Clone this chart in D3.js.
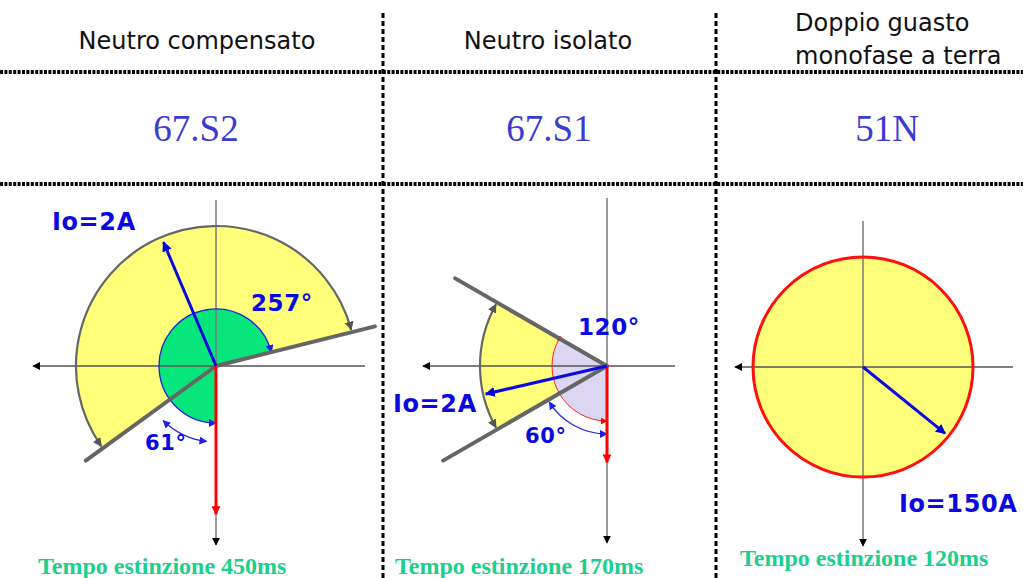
<!DOCTYPE html>
<html><head><meta charset="utf-8">
<script src="https://cdn.jsdelivr.net/npm/d3@7/dist/d3.min.js"></script>
<style>html,body{margin:0;padding:0;background:#fff;}svg{display:block;}</style>
</head><body>
<script>
// ---------- data ----------
const titles = [["Neutro compensato"], ["Neutro isolato"], ["Doppio guasto", "monofase a terra"]];
const codes = ["67.S2", "67.S1", "51N"];
const times = ["Tempo estinzione 450ms", "Tempo estinzione 170ms", "Tempo estinzione 120ms"];
const ioLabels = ["Io=2A", "Io=2A", "Io=150A"];
// trip sector (degrees, counter-clockwise from +x)
const sectorStart = [14, 150, 0];
const sectorEnd = [216, 210, 360];
// current vector angle (deg) and magnitude relative to sector radius
const ioAngles = [113, 193, -39];
const ioMagnitude = [0.96, 0.98, 0.96];
// measured span angle (inner sector) and its label
const spanStart = [14, 150];
const spanEnd = [270, 270];
const spanLabels = ["257°", "120°"];
// small reference angle and its label
const smallStart = [226, 212];
const smallEnd = [263, 270];
const smallLabels = ["61°", "60°"];
// reference voltage vector (pointing down), relative length
const refAngle = 270;
const refLength = [1.06, 0.76];
// sector boundary line lengths relative to sector radius
const lineLenA = [1.17, 1.38];
const lineLenB = [1.15, 1.49];

// ---------- layout ----------
const W = 1023, H = 578;
const svg = d3.select("body").append("svg").attr("width", W).attr("height", H);
const rad = d3.scaleLinear().domain([0, 360]).range([0, 2 * Math.PI]);
const panels = [
  {cx: 216, cy: 366, R: 140, inner: 57, small: 76, vTop: 200, vBot: 545, hL: 33, hR: 365},
  {cx: 607, cy: 366, R: 127, inner: 55, small: 68, vTop: 198, vBot: 543, hL: 423, hR: 675},
  {cx: 863, cy: 367, R: 110, vTop: 221, vBot: 546, hL: 735, hR: 1013}
];
function pt(p, r, deg) { return [p.cx + r * Math.cos(rad(deg)), p.cy - r * Math.sin(rad(deg))]; }
function arcPath(p, r, a0, a1) {
  const g = d3.path();
  g.arc(p.cx, p.cy, r, -rad(a0), -rad(a1), true);
  return g.toString();
}
function sectorPath(p, r, a0, a1) {
  const g = d3.path();
  g.moveTo(p.cx, p.cy);
  g.arc(p.cx, p.cy, r, -rad(a0), -rad(a1), true);
  g.closePath();
  return g.toString();
}

// markers
const defs = svg.append("defs");
function marker(id, color, size) {
  defs.append("marker").attr("id", id).attr("viewBox", "0 0 10 10")
    .attr("refX", 9).attr("refY", 5).attr("markerUnits", "userSpaceOnUse")
    .attr("markerWidth", size).attr("markerHeight", size)
    .attr("orient", "auto-start-reverse")
    .append("path").attr("d", "M0,0 L10,5 L0,10 z").attr("fill", color);
}
marker("mBlack", "#000", 8);
marker("mGray", "#555", 9);
marker("mBlue", "#0000e0", 10);
marker("mBlueS", "#2020e0", 8);
marker("mRed", "#ff0000", 9);
marker("mRedS", "#ff0000", 7);

const BLUE = "#0a0ae0", YEL = "#ffff7a", GRAY = "#666", GREEN = "#06e67a", PINK = "#ddd6f3";

// ---------- grid ----------
const grid = svg.append("g");
[72, 184].forEach(y => grid.append("line").attr("x1", 0).attr("x2", W).attr("y1", y).attr("y2", y)
  .attr("stroke", "#000").attr("stroke-width", 4).attr("stroke-dasharray", "3,1.4"));
[383, 716].forEach(x => grid.append("line").attr("x1", x).attr("x2", x).attr("y1", 13).attr("y2", H)
  .attr("stroke", "#000").attr("stroke-width", 3).attr("stroke-dasharray", "5,3"));

// ---------- headers ----------
const headerPos = [{x: 197, y: [49], anchor: "middle"}, {x: 548, y: [49], anchor: "middle"}, {x: 795, y: [31, 64], anchor: "start"}];
titles.forEach((lines, i) => {
  lines.forEach((t, j) => svg.append("text").attr("x", headerPos[i].x).attr("y", headerPos[i].y[j])
    .attr("text-anchor", headerPos[i].anchor).attr("font-family", "DejaVu Sans").attr("font-size", 24)
    .attr("fill", "#111").text(t));
});
const codeX = [196, 549, 887];
codes.forEach((c, i) => svg.append("text").attr("x", codeX[i]).attr("y", 141).attr("text-anchor", "middle")
  .attr("font-family", "Liberation Serif").attr("font-size", 37).attr("fill", "#3b3bcf").text(c));
const timePos = [[38, 574], [395, 574], [740, 566]];
times.forEach((t, i) => svg.append("text").attr("x", timePos[i][0]).attr("y", timePos[i][1])
  .attr("font-family", "Liberation Serif").attr("font-weight", "bold").attr("font-size", 24)
  .attr("fill", "#1ccf8e").text(t));

// ---------- diagrams ----------
panels.forEach((p, i) => {
  const g = svg.append("g");
  // sector fill
  if (i < 2) {
    g.append("path").attr("d", sectorPath(p, p.R, sectorStart[i], sectorEnd[i])).attr("fill", YEL);
    g.append("path").attr("d", sectorPath(p, p.inner, spanStart[i], spanEnd[i]))
      .attr("fill", i === 0 ? GREEN : PINK);
  } else {
    g.append("circle").attr("cx", p.cx).attr("cy", p.cy).attr("r", p.R).attr("fill", YEL);
  }
  // axes
  g.append("line").attr("x1", p.cx).attr("x2", p.cx).attr("y1", p.vTop).attr("y2", p.vBot)
    .attr("stroke", "#7a7a7a").attr("stroke-width", 1.5).attr("marker-end", "url(#mBlack)");
  g.append("line").attr("x1", p.hR).attr("x2", p.hL).attr("y1", p.cy).attr("y2", p.cy)
    .attr("stroke", "#555").attr("stroke-width", 1.5).attr("marker-end", "url(#mBlack)");
  if (i < 2) {
    // inner span outline
    if (i === 0) {
      g.append("path").attr("d", arcPath(p, p.inner, spanStart[i], spanEnd[i])).attr("fill", "none")
        .attr("stroke", "#2222dd").attr("stroke-width", 1.3)
        .attr("marker-start", "url(#mBlueS)").attr("marker-end", "url(#mBlueS)");
    } else {
      g.append("path").attr("d", arcPath(p, p.inner, spanStart[i], spanEnd[i])).attr("fill", "none")
        .attr("stroke", "#ff2020").attr("stroke-width", 1).attr("marker-end", "url(#mRedS)");
      const d0 = pt(p, p.inner, spanStart[i]);
      g.append("circle").attr("cx", d0[0]).attr("cy", d0[1]).attr("r", 2.5).attr("fill", "#ff0000");
    }
    // outer sector arc with arrows
    g.append("path").attr("d", arcPath(p, p.R, sectorStart[i] + 1, sectorEnd[i] - 1)).attr("fill", "none")
      .attr("stroke", "#666").attr("stroke-width", 2.2)
      .attr("marker-start", "url(#mGray)").attr("marker-end", "url(#mGray)");
    // small angle arc
    g.append("path").attr("d", arcPath(p, p.small, smallStart[i], smallEnd[i])).attr("fill", "none")
      .attr("stroke", "#2a2add").attr("stroke-width", 1.3)
      .attr("marker-start", "url(#mBlueS)").attr("marker-end", "url(#mBlueS)");
    // sector boundary lines
    [[sectorStart[i], lineLenA[i]], [sectorEnd[i], lineLenB[i]]].forEach(([a, l]) => {
      const e = pt(p, p.R * l, a);
      g.append("line").attr("x1", p.cx).attr("y1", p.cy).attr("x2", e[0]).attr("y2", e[1])
        .attr("stroke", GRAY).attr("stroke-width", 4).attr("stroke-linecap", "round");
    });
    // reference (red) vector
    const r = pt(p, p.R * refLength[i], refAngle);
    g.append("line").attr("x1", p.cx).attr("y1", p.cy).attr("x2", r[0]).attr("y2", r[1])
      .attr("stroke", "#ff0000").attr("stroke-width", 3).attr("marker-end", "url(#mRed)");
  } else {
    g.append("circle").attr("cx", p.cx).attr("cy", p.cy).attr("r", p.R).attr("fill", "none")
      .attr("stroke", "#ff1010").attr("stroke-width", 3);
  }
  // current vector
  const e = pt(p, p.R * ioMagnitude[i], ioAngles[i]);
  g.append("line").attr("x1", p.cx).attr("y1", p.cy).attr("x2", e[0]).attr("y2", e[1])
    .attr("stroke", BLUE).attr("stroke-width", 3).attr("marker-end", "url(#mBlue)");
});

// labels
const lbl = (x, y, t, s) => svg.append("text").attr("x", x).attr("y", y).attr("font-family", "DejaVu Sans")
  .attr("font-weight", "bold").attr("font-size", s).attr("fill", BLUE).attr("letter-spacing", 0.6).text(t);
const ioPos = [[52, 230], [393, 412], [899, 512]];
ioLabels.forEach((t, i) => lbl(ioPos[i][0], ioPos[i][1], t, i === 2 ? 24 : 24));
const spanPos = [[251, 311], [578, 335]];
spanLabels.forEach((t, i) => lbl(spanPos[i][0], spanPos[i][1], t, 23));
const smallPos = [[145, 450], [525, 443]];
smallLabels.forEach((t, i) => lbl(smallPos[i][0], smallPos[i][1], t, 21));
</script>
</body></html>
